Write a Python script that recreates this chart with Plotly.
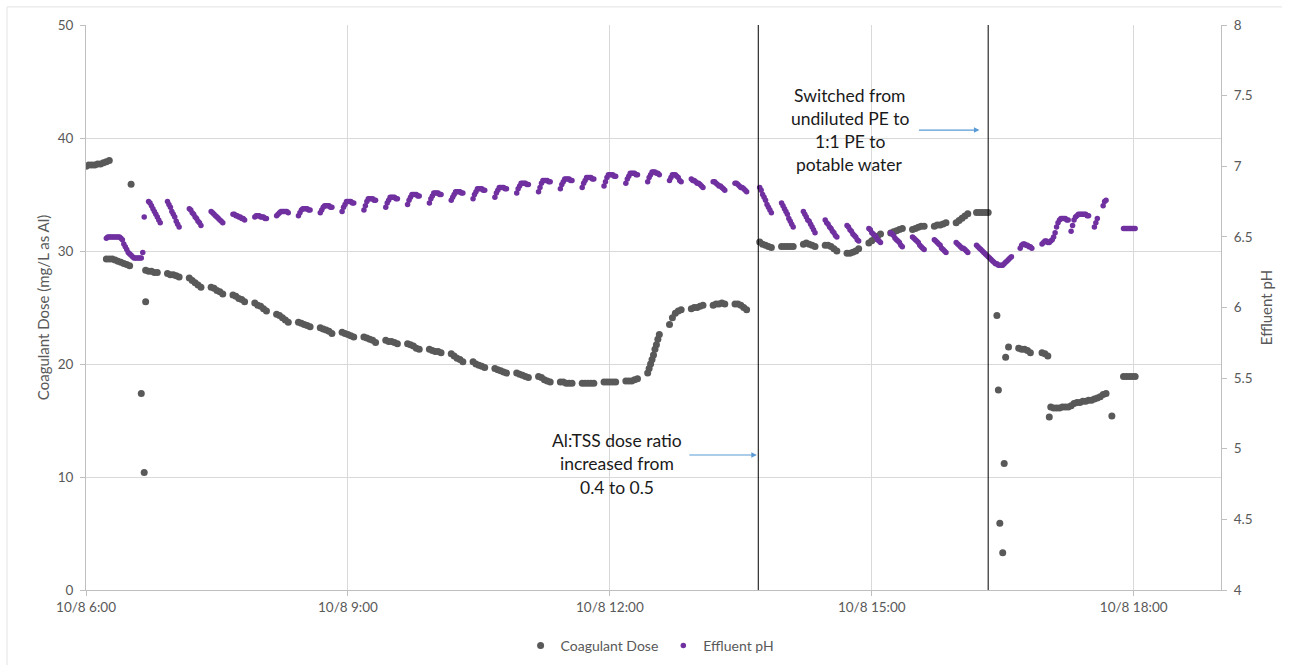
import plotly.graph_objects as go

DAY = "2019-10-08 "

# ---------------- data ----------------
dose_time = [
    "06:00", "06:02", "06:04", "06:06", "06:08", "06:10", "06:12", "06:14", "06:16",
    "06:14", "06:16", "06:18", "06:20", "06:22", "06:24", "06:26", "06:28", "06:30",
    "06:31", "06:38", "06:40", "06:41",
    "06:41", "06:43", "06:45", "06:47", "06:49",
    "06:56", "06:58", "07:00", "07:02", "07:04",
    "07:11", "07:13", "07:15", "07:17", "07:19",
    "07:26", "07:28", "07:30", "07:32", "07:34",
    "07:41", "07:43", "07:45", "07:47", "07:49",
    "07:56", "07:58", "08:00", "08:02", "08:04",
    "08:11", "08:13", "08:15", "08:17", "08:19",
    "08:26", "08:28", "08:30", "08:32", "08:34",
    "08:41", "08:43", "08:45", "08:47", "08:49",
    "08:56", "08:58", "09:00", "09:02", "09:04",
    "09:11", "09:13", "09:15", "09:17", "09:19",
    "09:26", "09:28", "09:30", "09:32", "09:34",
    "09:41", "09:43", "09:45", "09:47", "09:49",
    "09:56", "09:58", "10:00", "10:02", "10:04",
    "10:11", "10:13", "10:15", "10:17", "10:19",
    "10:26", "10:28", "10:30", "10:32", "10:34",
    "10:41", "10:43", "10:45", "10:47", "10:49",
    "10:56", "10:58", "11:00", "11:02", "11:04",
    "11:11", "11:13", "11:15", "11:17", "11:19",
    "11:26", "11:28", "11:30", "11:32", "11:34",
    "11:41", "11:43", "11:45", "11:47", "11:49",
    "11:56", "11:58", "12:00", "12:02", "12:04",
    "12:11", "12:13", "12:15", "12:17", "12:19",
    "12:26", "12:27", "12:28", "12:29", "12:30", "12:31", "12:32", "12:33", "12:34",
    "12:41", "12:43", "12:45", "12:47", "12:49",
    "12:56", "12:58", "13:00", "13:02", "13:04",
    "13:11", "13:13", "13:15", "13:17", "13:19",
    "13:26", "13:28", "13:30", "13:32", "13:34",
    "13:43", "13:45", "13:47", "13:49", "13:51",
    "13:58", "14:00", "14:02", "14:04", "14:06",
    "14:13", "14:15", "14:17", "14:19", "14:21",
    "14:28", "14:30", "14:32", "14:34", "14:36",
    "14:43", "14:45", "14:47", "14:49", "14:51",
    "14:58", "15:00", "15:02", "15:04", "15:06",
    "15:13", "15:15", "15:17", "15:19", "15:21",
    "15:28", "15:30", "15:32", "15:34", "15:36",
    "15:43", "15:45", "15:47", "15:49", "15:51",
    "15:58", "16:00", "16:02", "16:04", "16:06",
    "16:12", "16:14", "16:16", "16:18", "16:20",
    "16:26", "16:27", "16:28", "16:30", "16:31", "16:32", "16:34",
    "16:41", "16:43", "16:45", "16:47", "16:49",
    "16:57", "16:59", "17:01",
    "17:02", "17:03",
    "17:05", "17:07", "17:09", "17:11", "17:13", "17:15", "17:17", "17:19", "17:21", "17:23",
    "17:25", "17:27", "17:29", "17:31", "17:33", "17:35", "17:37", "17:39", "17:41",
    "17:45",
    "17:53", "17:55", "17:57", "17:59", "18:01",
]
dose_value = [
    37.5, 37.6, 37.6, 37.6, 37.7, 37.7, 37.8, 37.9, 38.0,
    29.3, 29.3, 29.3, 29.2, 29.1, 29.0, 28.9, 28.8, 28.7,
    35.9, 17.4, 10.4, 25.5,
    28.3, 28.2, 28.2, 28.1, 28.1,
    28.0, 27.9, 27.9, 27.8, 27.7,
    27.6, 27.4, 27.2, 27.0, 26.8,
    26.8, 26.7, 26.5, 26.4, 26.2,
    26.1, 26.0, 25.8, 25.7, 25.5,
    25.4, 25.2, 25.1, 24.9, 24.7,
    24.4, 24.3, 24.1, 23.9, 23.7,
    23.7, 23.6, 23.5, 23.4, 23.3,
    23.2, 23.1, 23.0, 22.9, 22.7,
    22.8, 22.7, 22.6, 22.5, 22.4,
    22.4, 22.3, 22.2, 22.1, 21.9,
    22.1, 22.0, 22.0, 21.9, 21.8,
    21.8, 21.7, 21.6, 21.4, 21.3,
    21.3, 21.2, 21.1, 21.1, 21.0,
    20.9, 20.7, 20.5, 20.4, 20.2,
    20.2, 20.0, 19.9, 19.8, 19.7,
    19.6, 19.5, 19.4, 19.3, 19.2,
    19.2, 19.1, 19.0, 18.9, 18.8,
    18.9, 18.8, 18.6, 18.5, 18.4,
    18.4, 18.4, 18.3, 18.3, 18.3,
    18.3, 18.3, 18.3, 18.3, 18.3,
    18.4, 18.4, 18.4, 18.4, 18.4,
    18.5, 18.5, 18.5, 18.6, 18.7,
    19.2, 19.6, 20.0, 20.4, 20.8, 21.3, 21.7, 22.2, 22.6,
    23.5, 24.1, 24.5, 24.7, 24.8,
    24.9, 25.0, 25.0, 25.1, 25.2,
    25.2, 25.3, 25.3, 25.4, 25.3,
    25.3, 25.3, 25.2, 25.0, 24.8,
    30.8, 30.6, 30.5, 30.4, 30.3,
    30.4, 30.4, 30.4, 30.4, 30.4,
    30.6, 30.7, 30.6, 30.5, 30.4,
    30.5, 30.5, 30.4, 30.2, 30.0,
    29.8, 29.8, 29.9, 30.0, 30.2,
    30.7, 30.9, 31.1, 31.3, 31.5,
    31.6, 31.7, 31.8, 31.9, 32.0,
    31.9, 32.0, 32.1, 32.2, 32.2,
    32.2, 32.3, 32.3, 32.4, 32.5,
    32.5, 32.7, 32.9, 33.1, 33.3,
    33.4, 33.4, 33.4, 33.4, 33.4,
    24.3, 17.7, 5.9, 3.3, 11.2, 20.6, 21.5,
    21.4, 21.3, 21.3, 21.2, 21.0,
    21.0, 20.9, 20.7,
    15.3, 16.2,
    16.1, 16.1, 16.1, 16.2, 16.2, 16.2, 16.3, 16.5, 16.6, 16.6,
    16.7, 16.7, 16.8, 16.8, 16.9, 17.0, 17.1, 17.3, 17.4,
    15.4,
    18.9, 18.9, 18.9, 18.9, 18.9,
]

ph_time = [
    "06:14", "06:15", "06:16", "06:17", "06:18", "06:19", "06:20", "06:21", "06:22", "06:23", "06:24", "06:25",
    "06:26", "06:27", "06:28", "06:29", "06:30", "06:31", "06:32", "06:33", "06:34", "06:35", "06:36", "06:37", "06:38",
    "06:39", "06:40",
    "06:43", "06:44", "06:45", "06:46", "06:47", "06:48", "06:49", "06:50", "06:51",
    "06:56", "06:57", "06:58", "06:59", "07:00", "07:01", "07:02", "07:03", "07:04",
    "07:11", "07:12", "07:13", "07:14", "07:15", "07:16", "07:17", "07:18", "07:19",
    "07:26", "07:27", "07:28", "07:29", "07:30", "07:31", "07:32", "07:33", "07:34",
    "07:41", "07:42", "07:43", "07:44", "07:45", "07:46", "07:47", "07:48", "07:49",
    "07:56", "07:57", "07:58", "07:59", "08:00", "08:01", "08:02", "08:03", "08:04",
    "08:11", "08:12", "08:13", "08:14", "08:15", "08:16", "08:17", "08:18", "08:19",
    "08:26", "08:27", "08:28", "08:29", "08:30", "08:31", "08:32", "08:33", "08:34",
    "08:41", "08:42", "08:43", "08:44", "08:45", "08:46", "08:47", "08:48", "08:49",
    "08:56", "08:57", "08:58", "08:59", "09:00", "09:01", "09:02", "09:03", "09:04",
    "09:11", "09:12", "09:13", "09:14", "09:15", "09:16", "09:17", "09:18", "09:19",
    "09:26", "09:27", "09:28", "09:29", "09:30", "09:31", "09:32", "09:33", "09:34",
    "09:41", "09:42", "09:43", "09:44", "09:45", "09:46", "09:47", "09:48", "09:49",
    "09:56", "09:57", "09:58", "09:59", "10:00", "10:01", "10:02", "10:03", "10:04",
    "10:11", "10:12", "10:13", "10:14", "10:15", "10:16", "10:17", "10:18", "10:19",
    "10:26", "10:27", "10:28", "10:29", "10:30", "10:31", "10:32", "10:33", "10:34",
    "10:41", "10:42", "10:43", "10:44", "10:45", "10:46", "10:47", "10:48", "10:49",
    "10:56", "10:57", "10:58", "10:59", "11:00", "11:01", "11:02", "11:03", "11:04",
    "11:11", "11:12", "11:13", "11:14", "11:15", "11:16", "11:17", "11:18", "11:19",
    "11:26", "11:27", "11:28", "11:29", "11:30", "11:31", "11:32", "11:33", "11:34",
    "11:41", "11:42", "11:43", "11:44", "11:45", "11:46", "11:47", "11:48", "11:49",
    "11:56", "11:57", "11:58", "11:59", "12:00", "12:01", "12:02", "12:03", "12:04",
    "12:11", "12:12", "12:13", "12:14", "12:15", "12:16", "12:17", "12:18", "12:19",
    "12:26", "12:27", "12:28", "12:29", "12:30", "12:31", "12:32", "12:33", "12:34",
    "12:41", "12:42", "12:43", "12:44", "12:45", "12:46", "12:47", "12:48", "12:49",
    "12:56", "12:57", "12:58", "12:59", "13:00", "13:01", "13:02", "13:03", "13:04",
    "13:11", "13:12", "13:13", "13:14", "13:15", "13:16", "13:17", "13:18", "13:19",
    "13:26", "13:27", "13:28", "13:29", "13:30", "13:31", "13:32", "13:33", "13:34",
    "13:43", "13:44", "13:45", "13:46", "13:47", "13:48", "13:49", "13:50", "13:51",
    "13:58", "13:59", "14:00", "14:01", "14:02", "14:03", "14:04", "14:05", "14:06",
    "14:13", "14:14", "14:15", "14:16", "14:17", "14:18", "14:19", "14:20", "14:21",
    "14:28", "14:29", "14:30", "14:31", "14:32", "14:33", "14:34", "14:35", "14:36",
    "14:43", "14:44", "14:45", "14:46", "14:47", "14:48", "14:49", "14:50", "14:51",
    "14:58", "14:59", "15:00", "15:01", "15:02", "15:03", "15:04", "15:05", "15:06",
    "15:13", "15:14", "15:15", "15:16", "15:17", "15:18", "15:19", "15:20", "15:21",
    "15:28", "15:29", "15:30", "15:31", "15:32", "15:33", "15:34", "15:35", "15:36",
    "15:43", "15:44", "15:45", "15:46", "15:47", "15:48", "15:49", "15:50", "15:51",
    "15:58", "15:59", "16:00", "16:01", "16:02", "16:03", "16:04", "16:05", "16:06",
    "16:12", "16:13", "16:14", "16:15", "16:16", "16:17", "16:18", "16:19", "16:20",
    "16:21", "16:22", "16:23", "16:24", "16:25", "16:26", "16:27", "16:28", "16:29",
    "16:30", "16:31", "16:32", "16:33", "16:34", "16:35", "16:36",
    "16:42", "16:43", "16:44", "16:45", "16:46", "16:47", "16:48", "16:49", "16:50",
    "16:57", "16:58", "16:59", "17:00", "17:01", "17:02", "17:03", "17:04", "17:05",
    "17:06", "17:07", "17:08", "17:09", "17:10", "17:11", "17:12", "17:13", "17:14", "17:15",
    "17:17", "17:18", "17:19", "17:20", "17:21", "17:22", "17:23", "17:24", "17:25", "17:26",
    "17:27", "17:28", "17:29",
    "17:33", "17:34", "17:35",
    "17:39", "17:40", "17:41",
    "17:53", "17:54", "17:55", "17:56", "17:57", "17:58", "17:59", "18:00", "18:01",
]
ph_value = [
    6.49, 6.50, 6.50, 6.50, 6.50, 6.50, 6.50, 6.50, 6.50, 6.50, 6.49, 6.48,
    6.45, 6.43, 6.41, 6.39, 6.38, 6.37, 6.36, 6.35, 6.35, 6.35, 6.35, 6.35, 6.35,
    6.39, 6.64,
    6.75, 6.74, 6.72, 6.70, 6.68, 6.66, 6.64, 6.62, 6.60,
    6.75, 6.73, 6.71, 6.68, 6.66, 6.64, 6.61, 6.59, 6.57,
    6.70, 6.69, 6.67, 6.66, 6.64, 6.63, 6.61, 6.60, 6.58,
    6.68, 6.67, 6.66, 6.65, 6.64, 6.63, 6.62, 6.61, 6.60,
    6.66, 6.66, 6.65, 6.65, 6.64, 6.64, 6.63, 6.63, 6.62,
    6.64, 6.65, 6.65, 6.65, 6.64, 6.64, 6.64, 6.63, 6.63,
    6.65, 6.66, 6.67, 6.68, 6.68, 6.68, 6.68, 6.68, 6.67,
    6.65, 6.67, 6.69, 6.70, 6.70, 6.70, 6.70, 6.69, 6.69,
    6.67, 6.69, 6.71, 6.72, 6.72, 6.72, 6.72, 6.71, 6.71,
    6.68, 6.71, 6.73, 6.75, 6.75, 6.75, 6.75, 6.74, 6.74,
    6.69, 6.72, 6.75, 6.77, 6.77, 6.77, 6.77, 6.76, 6.76,
    6.71, 6.74, 6.76, 6.78, 6.78, 6.78, 6.78, 6.77, 6.77,
    6.73, 6.76, 6.78, 6.80, 6.80, 6.80, 6.80, 6.79, 6.79,
    6.74, 6.77, 6.79, 6.81, 6.81, 6.81, 6.81, 6.80, 6.80,
    6.76, 6.78, 6.80, 6.82, 6.82, 6.82, 6.82, 6.81, 6.81,
    6.77, 6.80, 6.82, 6.84, 6.84, 6.84, 6.84, 6.83, 6.83,
    6.78, 6.81, 6.83, 6.85, 6.85, 6.85, 6.85, 6.84, 6.84,
    6.81, 6.84, 6.86, 6.88, 6.88, 6.88, 6.88, 6.87, 6.87,
    6.82, 6.85, 6.88, 6.90, 6.90, 6.90, 6.90, 6.89, 6.89,
    6.84, 6.87, 6.89, 6.91, 6.91, 6.91, 6.91, 6.90, 6.90,
    6.85, 6.88, 6.90, 6.92, 6.92, 6.92, 6.92, 6.91, 6.91,
    6.86, 6.89, 6.92, 6.94, 6.94, 6.94, 6.94, 6.93, 6.93,
    6.88, 6.91, 6.93, 6.95, 6.95, 6.95, 6.95, 6.94, 6.94,
    6.89, 6.92, 6.94, 6.96, 6.96, 6.96, 6.95, 6.95, 6.94,
    6.90, 6.92, 6.94, 6.94, 6.94, 6.93, 6.92, 6.90, 6.89,
    6.91, 6.90, 6.90, 6.89, 6.88, 6.88, 6.87, 6.86, 6.85,
    6.89, 6.89, 6.88, 6.87, 6.86, 6.86, 6.85, 6.84, 6.83,
    6.88, 6.88, 6.87, 6.86, 6.85, 6.85, 6.84, 6.83, 6.82,
    6.85, 6.83, 6.80, 6.78, 6.76, 6.73, 6.71, 6.69, 6.67,
    6.74, 6.72, 6.70, 6.68, 6.66, 6.63, 6.61, 6.59, 6.57,
    6.68, 6.66, 6.64, 6.62, 6.61, 6.59, 6.57, 6.55, 6.53,
    6.62, 6.60, 6.59, 6.57, 6.56, 6.54, 6.53, 6.51, 6.50,
    6.58, 6.57, 6.55, 6.54, 6.52, 6.51, 6.50, 6.48, 6.47,
    6.56, 6.55, 6.53, 6.52, 6.51, 6.50, 6.48, 6.47, 6.46,
    6.53, 6.52, 6.51, 6.49, 6.48, 6.47, 6.46, 6.44, 6.43,
    6.50, 6.49, 6.48, 6.47, 6.46, 6.44, 6.43, 6.42, 6.41,
    6.48, 6.47, 6.46, 6.45, 6.44, 6.42, 6.41, 6.40, 6.39,
    6.46, 6.45, 6.44, 6.43, 6.42, 6.42, 6.41, 6.40, 6.39,
    6.44, 6.43, 6.42, 6.41, 6.40, 6.39, 6.38, 6.37, 6.36,
    6.35, 6.34, 6.33, 6.32, 6.31, 6.31, 6.30, 6.30, 6.30,
    6.30, 6.31, 6.32, 6.33, 6.34, 6.35, 6.36,
    6.42, 6.44, 6.45, 6.45, 6.44, 6.44, 6.43, 6.43, 6.42,
    6.45, 6.46, 6.47, 6.47, 6.46, 6.46, 6.47, 6.48, 6.50,
    6.53, 6.57, 6.60, 6.62, 6.63, 6.63, 6.63, 6.63, 6.62, 6.62,
    6.54, 6.58, 6.62, 6.64, 6.65, 6.66, 6.66, 6.66, 6.66, 6.66,
    6.66, 6.65, 6.65,
    6.57, 6.60, 6.63,
    6.72, 6.75, 6.76,
    6.56, 6.56, 6.56, 6.56, 6.56, 6.56, 6.56, 6.56, 6.56,
]

x_tick_times = ["06:00", "09:00", "12:00", "15:00", "18:00"]
x_tick_labels = ["10/8 6:00", "10/8 9:00", "10/8 12:00", "10/8 15:00", "10/8 18:00"]
x_range = ["06:00", "19:00"]
event_times = ["13:42", "16:20"]

# ---------------- figure ----------------
FONT = "Lato, 'Open Sans', sans-serif"
GRAY_TXT = "#595959"
GRID = "#D9D9D9"
AXLINE = "#BFBFBF"

fig = go.Figure()
fig.add_trace(go.Scatter(
    x=[DAY + t for t in dose_time], y=dose_value, mode="markers",
    name="Coagulant Dose", yaxis="y",
    marker=dict(color="#595959", size=7, line=dict(width=0)),
))
fig.add_trace(go.Scatter(
    x=[DAY + t for t in ph_time], y=ph_value, mode="markers",
    name="Effluent pH", yaxis="y2",
    marker=dict(color="#7030A0", size=5.5, line=dict(width=0)),
))

# event lines
for t in event_times:
    fig.add_shape(type="line", xref="x", yref="paper", x0=DAY + t, x1=DAY + t,
                  y0=0, y1=1, line=dict(color="black", width=1))

# chart-area border (left and top edges)
fig.add_shape(type="line", xref="paper", yref="paper", x0=-0.0696, x1=-0.0696,
              y0=-0.14, y1=1.032, line=dict(color="#E3E3E3", width=1))
fig.add_shape(type="line", xref="paper", yref="paper", x0=-0.0696, x1=1.0537,
              y0=1.032, y1=1.032, line=dict(color="#E3E3E3", width=1))

ann_font = dict(family=FONT, size=17.5, color="#1a1a1a")
block1 = ["Al:TSS dose ratio", "increased from", "0.4 to 0.5"]
for i, line in enumerate(block1):
    fig.add_annotation(x=DAY + "12:05", y=13.27, xref="x", yref="y", text=line,
                       showarrow=False, xanchor="center", yanchor="middle",
                       yshift=-23.5 * i, font=ann_font)
block2 = ["Switched from", "undiluted PE to", "1:1 PE to", "potable water"]
for i, line in enumerate(block2):
    fig.add_annotation(x=DAY + "14:45", y=43.72, xref="x", yref="y", text=line,
                       showarrow=False, xanchor="center", yanchor="middle",
                       yshift=-23 * i, font=ann_font)

# arrows
fig.add_annotation(x=DAY + "13:41", y=11.95, xref="x", yref="y", text="",
                   showarrow=True, ax=-69, ay=0, arrowhead=2, arrowsize=1,
                   arrowwidth=1.1, arrowcolor="#5B9BD5")
fig.add_annotation(x=DAY + "16:14", y=40.7, xref="x", yref="y", text="",
                   showarrow=True, ax=-62, ay=0, arrowhead=2, arrowsize=1,
                   arrowwidth=1.1, arrowcolor="#5B9BD5")

tickfont = dict(family=FONT, size=13.5, color=GRAY_TXT)
fig.update_layout(
    template="none",
    width=1293, height=665,
    margin=dict(l=86, r=72, t=25, b=75, autoexpand=False),
    paper_bgcolor="white", plot_bgcolor="white",
    font=dict(family=FONT, color=GRAY_TXT),
    showlegend=True,
    legend=dict(orientation="h", x=0.497, xanchor="center", y=-0.099, yanchor="middle",
                font=dict(family=FONT, size=14, color=GRAY_TXT),
                bgcolor="rgba(0,0,0,0)", itemwidth=30),
    xaxis=dict(
        type="date", range=[DAY + x_range[0], DAY + x_range[1]],
        tickvals=[DAY + t for t in x_tick_times], ticktext=x_tick_labels,
        showgrid=True, gridcolor=GRID, gridwidth=1,
        showline=True, linecolor=AXLINE, linewidth=1,
        ticks="outside", ticklen=5, tickcolor=AXLINE,
        tickfont=tickfont, zeroline=False,
    ),
    yaxis=dict(
        range=[0, 50], tick0=0, dtick=10,
        showgrid=True, gridcolor=GRID, gridwidth=1,
        showline=True, linecolor=AXLINE, linewidth=1,
        ticks="outside", ticklen=5, tickcolor=AXLINE,
        tickfont=tickfont, zeroline=False, ticklabelstandoff=4,
        title=dict(text="Coagulant Dose (mg/L as Al)", standoff=4,
                   font=dict(family=FONT, size=15, color=GRAY_TXT)),
    ),
    yaxis2=dict(
        overlaying="y", side="right", anchor="x",
        range=[4, 8], tick0=4, dtick=0.5,
        showgrid=False,
        showline=True, linecolor=AXLINE, linewidth=1,
        ticks="outside", ticklen=5, tickcolor=AXLINE,
        tickfont=tickfont, zeroline=False, ticklabelstandoff=4,
        title=dict(text="Effluent pH", standoff=9,
                   font=dict(family=FONT, size=15, color=GRAY_TXT)),
    ),
)

fig.write_html("out.html")
